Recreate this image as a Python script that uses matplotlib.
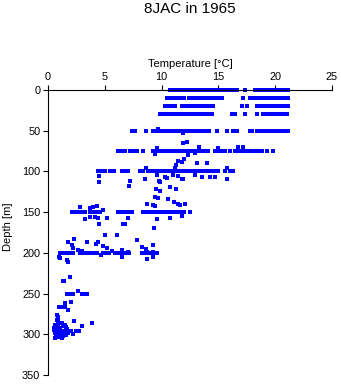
import matplotlib
matplotlib.use("Agg")
import matplotlib.pyplot as plt

plt.rcParams['font.family'] = ['Liberation Sans', 'DejaVu Sans']

title = "8JAC in 1965"
xlabel = "Temperature [\u00b0C]"
ylabel = "Depth [m]"
xticks = [0, 5, 10, 15, 20, 25]
yticks = [0, 50, 100, 150, 200, 250, 300, 350]

# Temperatures observed along standard depth levels
temp_d0 = [10.7, 11.0, 11.2, 11.5, 11.8, 12.1, 12.4, 12.7, 13.0, 13.3, 13.6, 13.9,
           14.2, 14.5, 14.8, 15.1, 15.4, 15.7, 16.0, 16.3, 16.6, 17.3, 18.2, 18.5,
           18.8, 19.1, 19.4, 19.7, 20.0, 20.3, 20.6, 20.9, 21.1]
temp_d10 = [10.5, 10.8, 11.1, 11.4, 11.7, 12.0, 12.4, 12.7, 13.0, 13.3, 13.6, 13.9,
            14.2, 14.5, 14.8, 15.1, 15.3, 17.2, 17.8, 18.1, 18.4, 18.7, 19.0, 19.3,
            19.6, 19.9, 20.2, 20.5, 20.8, 21.1]
temp_d20 = [10.3, 10.6, 10.9, 11.2, 11.8, 12.1, 12.4, 12.7, 13.0, 13.3, 13.6, 13.9,
            14.2, 14.5, 17.1, 17.5, 18.4, 18.7, 19.0, 19.3, 19.6, 19.9, 20.2, 20.5,
            20.8, 21.1]
temp_d30 = [9.9, 10.2, 10.5, 10.8, 11.1, 11.4, 11.7, 12.0, 12.3, 12.6, 12.9, 13.2,
            13.5, 13.8, 14.1, 14.4, 16.2, 16.5, 17.3, 18.4, 18.9, 19.2, 19.5, 19.8,
            20.1, 20.4, 20.7, 21.0]
temp_d50 = [7.4, 7.7, 8.6, 9.2, 9.4, 9.7, 10.0, 10.3, 10.6, 10.9, 11.2, 11.5, 11.8,
            12.1, 12.4, 12.7, 13.0, 13.3, 13.6, 13.9, 14.2, 14.9, 15.8, 16.3, 16.6,
            17.8, 18.0, 18.4, 18.7, 19.0, 19.3, 19.6, 19.9, 20.2, 20.5, 20.8, 21.1]
temp_d75 = [6.2, 6.5, 6.8, 7.2, 7.5, 7.8, 8.4, 9.2, 9.6, 9.9, 10.2, 10.5, 10.8, 11.1,
            11.4, 11.7, 12.0, 12.3, 12.6, 12.9, 13.2, 13.5, 13.8, 14.1, 14.7, 15.0,
            15.3, 15.6, 16.0, 16.5, 16.8, 17.1, 17.4, 17.7, 18.0, 18.3, 18.6, 18.8,
            19.3, 19.8]
temp_d100 = [4.4, 4.7, 5.0, 5.5, 5.8, 6.5, 6.8, 7.0, 8.1, 8.4, 8.8, 9.0, 9.3, 9.6,
             9.9, 10.2, 10.5, 10.8, 11.1, 11.4, 11.7, 12.0, 12.3, 12.6, 12.9, 13.2,
             13.5, 13.8, 14.1, 14.4, 14.7, 15.0, 15.6, 16.0, 16.3]
temp_d150 = [2.1, 2.4, 2.7, 3.0, 3.3, 3.7, 4.0, 4.3, 4.6, 6.2, 6.5, 6.8, 7.1, 7.4,
             8.4, 8.7, 9.0, 9.3, 9.6, 9.9, 10.2, 10.5, 10.8, 11.1, 11.4, 11.7, 12.0,
             12.5]
temp_d200 = [1.1, 1.4, 1.7, 2.0, 2.2, 2.8, 3.1, 3.4, 3.7, 4.0, 4.3, 4.8, 5.1, 5.4,
             5.9, 6.2, 6.5, 6.8, 7.1, 8.3, 8.6, 9.0, 9.3, 9.6]
temp_d250 = [1.7, 1.9, 2.2, 3.0, 3.2, 3.4]

levels = [0, 10, 20, 30, 50, 75, 100, 150, 200, 250]
level_temps = [temp_d0, temp_d10, temp_d20, temp_d30, temp_d50, temp_d75,
               temp_d100, temp_d150, temp_d200, temp_d250]

# Off-level observations
scatter_temp = [9.7, 11.9,
                9.6, 9.4, 11.9, 12.2, 13.3, 12.3, 12.9, 15.0, 16.7, 17.2,
                11.4, 11.8, 12.0, 11.3, 13.1, 14.0, 11.2, 15.8, 8.6,
                4.5, 4.5, 7.2, 7.1, 8.5, 9.6, 9.8, 10.5, 10.7, 11.3, 9.5, 9.9, 9.4,
                9.7, 10.6, 11.8, 11.0, 10.3, 11.4, 12.9, 13.6, 14.3, 14.7, 15.8,
                11.9, 9.9, 8.7, 9.2, 9.4, 11.4, 12.1, 2.8, 3.7, 4.0, 4.3, 4.8,
                11.1, 11.6,
                3.3, 3.7, 4.1, 4.4, 4.5, 6.8, 7.0, 5.2, 9.6, 10.7, 11.8, 9.3, 6.6,
                5.0, 6.1, 7.8, 1.8, 2.3, 3.4, 4.4, 4.2, 2.1, 2.2, 4.8, 5.2, 2.6,
                3.0, 5.6, 8.3, 8.6, 9.2, 8.7, 9.2, 6.5, 7.0,
                1.1, 1.7, 1.8, 4.7, 6.5, 8.7, 9.2, 1.0,
                1.3, 1.4, 1.9, 2.6,
                2.0, 1.5, 1.0, 1.2, 1.5, 1.8, 0.8, 0.9, 0.8, 2.3, 3.0, 3.9, 2.5,
                2.7,
                0.6, 0.9, 1.2, 0.7, 1.0, 1.3, 1.6, 0.5, 0.8, 1.1, 1.4, 1.7, 2.0,
                0.6, 0.9, 1.2, 1.5, 1.8, 0.7, 1.0, 1.3, 1.6, 0.6, 1.2, 2.2, 0.9,
                1.5, 0.5, 0.7, 1.0]
scatter_depth = [48, 53,
                 71, 79, 65, 64, 70, 80, 77, 71, 70, 70,
                 87, 88, 85, 92, 90, 90, 96, 96, 96,
                 106, 113, 112, 118, 109, 104, 112, 108, 119, 122, 122, 124, 131,
                 133, 134, 109, 104, 107, 106, 104, 107, 107, 107, 109,
                 109, 113, 140, 141, 142, 140, 140, 144, 145, 144, 142, 147,
                 138, 141,
                 158, 156, 156, 157, 165, 165, 157, 157, 158, 157, 155, 169, 165,
                 178, 178, 184, 187, 183, 187, 187, 189, 190, 194, 192, 194, 196,
                 198, 198, 193, 195, 190, 199, 199, 196, 199,
                 206, 209, 211, 203, 205, 208, 205, 205,
                 235, 235, 230, 247,
                 260, 262, 266, 266, 266, 270, 276, 279, 282, 284, 290, 286, 296,
                 296,
                 288, 287, 286, 291, 292, 290, 291, 295, 296, 295, 296, 294, 296,
                 299, 300, 299, 300, 298, 302, 303, 302, 301, 304, 305, 300, 284,
                 288, 292, 298, 297]

fig = plt.figure(figsize=(3.41, 3.84), dpi=100)
ax = fig.add_axes([48 / 341, 1 - 375 / 384, 284 / 341, 285 / 384])

blue = '#0000ff'
for depth, temps in zip(levels, level_temps):
    ax.plot(temps, [depth] * len(temps), ls='', marker='s', ms=2.2, mew=0,
            color=blue, clip_on=False, antialiased=False)
ax.plot(scatter_temp, scatter_depth, ls='', marker='s', ms=2.2, mew=0,
        color=blue, clip_on=False, antialiased=False)

ax.set_xlim(0, 25)
ax.set_ylim(350, 0)
ax.set_xticks(xticks)
ax.set_yticks(yticks)
ax.xaxis.tick_top()
ax.spines['bottom'].set_visible(False)
ax.spines['right'].set_visible(False)
for s in ['top', 'left']:
    ax.spines[s].set_linewidth(0.8)
ax.tick_params(axis='both', direction='out', length=3.6, width=0.8,
               labelsize=7.8, pad=2)

ax.set_xlabel(xlabel, fontsize=8)
ax.xaxis.set_label_position('top')
ax.xaxis.set_label_coords(0.5, 1.08)
ax.set_ylabel(ylabel, fontsize=8)
ax.yaxis.set_label_coords(-0.124, 0.52)

fig.text(190 / 341, 1 - 9 / 384, title, ha='center', va='center', fontsize=11)

fig.savefig('out.png', dpi=100)
